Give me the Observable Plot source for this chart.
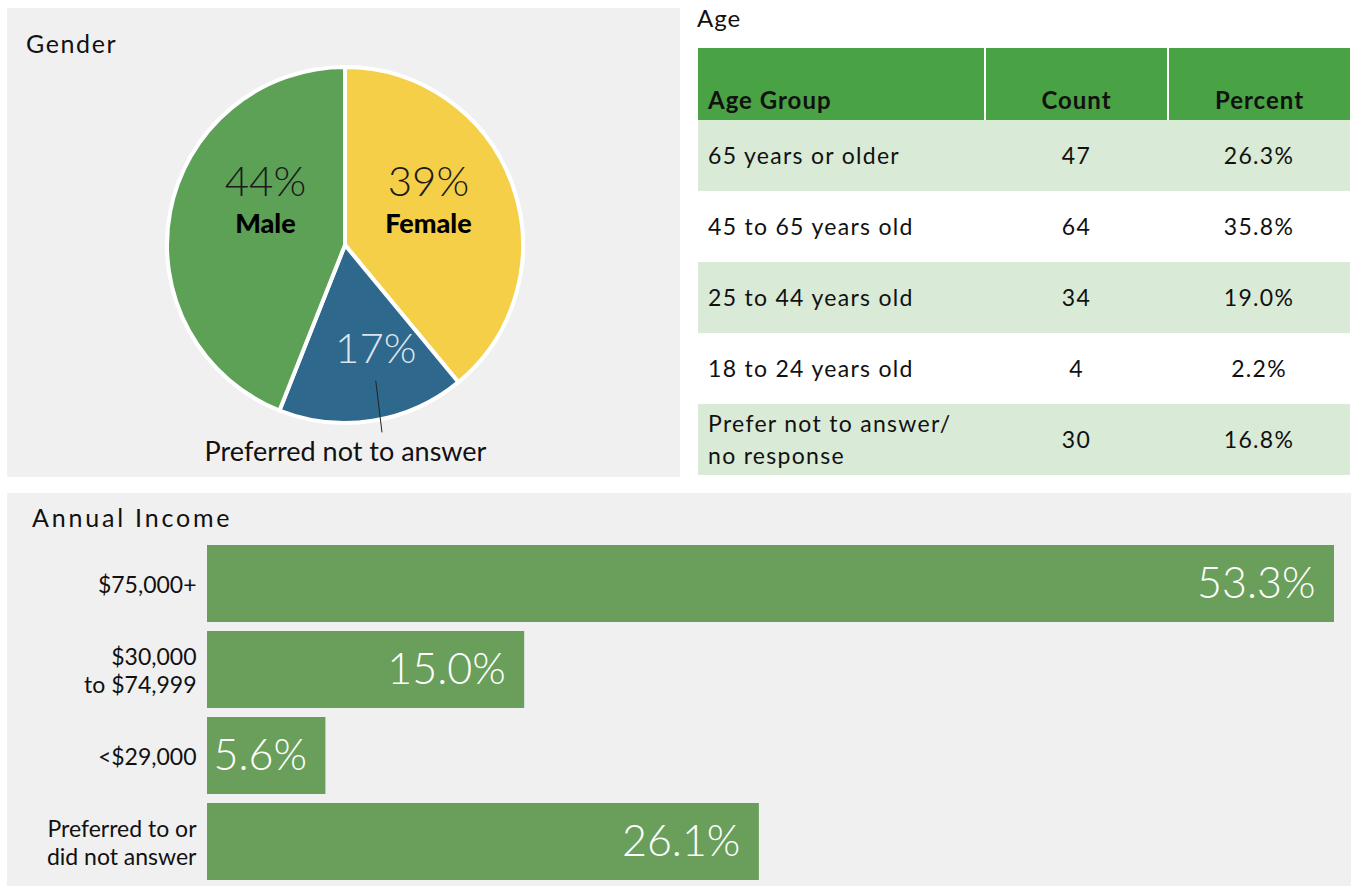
<!DOCTYPE html>
<html>
<head>
<meta charset="utf-8">
<script src="https://cdn.jsdelivr.net/npm/d3@7"></script>
<script src="https://cdn.jsdelivr.net/npm/@observablehq/plot@0.6"></script>
<style>
  html, body { margin: 0; padding: 0; background: #ffffff; }
  body { width: 1351px; height: 886px; position: relative; overflow: hidden; font-family: Lato, "Open Sans", sans-serif; color: #111; }
  .panel { position: absolute; background: #f0f0f0; }
  .title { position: absolute; font-size: 25px; line-height: 1; color: #111; white-space: nowrap; letter-spacing: 1.6px; }
  #gender { left: 7px; top: 8px; width: 673px; height: 469px; }
  #income { left: 7px; top: 493px; width: 1344px; height: 393px; }
  #age { position: absolute; left: 698px; top: 48px; width: 652px; }
  table { border-collapse: collapse; width: 652px; table-layout: fixed; font-size: 23px; letter-spacing: 1.3px; }
  th { background: #49a243; height: 66px; vertical-align: bottom; padding: 0 0 6px 0; font-weight: 700; font-size: 24px; border-left: 2px solid #fff; border-right: 2px solid #fff; letter-spacing: 1px; }
  th:first-child { border-left: none; text-align: left; padding-left: 10px; }
  th:last-child { border-right: none; }
  td { height: 71px; padding: 0; text-align: center; vertical-align: middle; line-height: 1.38; }
  td:first-child { text-align: left; padding-left: 10px; }
  tr.alt td { background: #d9ead6; }
  svg { position: absolute; left: 0; top: 0; }
</style>
</head>
<body>
<div class="panel" id="gender"><div class="title" style="left:19px;top:23px;">Gender</div></div>
<div class="title" style="left:697px;top:6px;font-size:24px;letter-spacing:1px;">Age</div>
<div id="age"></div>
<div class="panel" id="income"><div class="title" style="left:25px;top:12px;letter-spacing:2.8px;">Annual Income</div></div>
<script>
// ---------- DATA ----------
const genderKeys = ["Female", "Preferred not to answer", "Male"];
const genderPct = [39, 17, 44];
const genderShortLabels = ["Female", "", "Male"];
const genderColors = ["#f4cf47", "#2e688c", "#5ca156"];

const ageGroups = ["65 years or older", "45 to 65 years old", "25 to 44 years old", "18 to 24 years old", "Prefer not to answer/\nno response"];
const ageCounts = [47, 64, 34, 4, 30];
const agePercents = [26.3, 35.8, 19.0, 2.2, 16.8];
const ageHeaders = ["Age Group", "Count", "Percent"];

const incomeCats = ["$75,000+", "$30,000\nto $74,999", "<$29,000", "Preferred to or\ndid not answer"];
const incomePct = [53.3, 15.0, 5.6, 26.1];

// ---------- GENDER PIE ----------
const genderData = genderKeys.map((k, i) => ({key: k, value: genderPct[i], short: genderShortLabels[i], color: genderColors[i]}));
const pieColor = d3.scaleOrdinal(genderKeys, genderColors);
// label anchor positions (layout, in unit-radius coordinates)
const labelAt = {"Female": [0.466, 0.335], "Male": [-0.45, 0.335], "Preferred not to answer": [0.17, -0.6]};
const pctFill = {"Female": "#1a1a1a", "Male": "#1a1a1a", "Preferred not to answer": "#dde5ec"};

const R = 178, CX = 338, CY = 237;
const pie = Plot.plot({
  width: 673, height: 469,
  margin: 0,
  x: {domain: [-1, 1], range: [CX - R, CX + R], axis: null},
  y: {domain: [-1, 1], range: [CY + R, CY - R], axis: null},
  style: {background: "transparent", fontFamily: "Lato, 'Open Sans', sans-serif", overflow: "visible"},
  marks: [
    (index, scales) => {
      const cx = scales.x(0), cy = scales.y(0), r = scales.x(1) - cx;
      const g = d3.create("svg:g").attr("transform", `translate(${cx},${cy})`);
      const arcs = d3.pie().sort(null).value(d => d.value)(genderData);
      g.selectAll("path").data(arcs).join("path")
        .attr("d", d3.arc().innerRadius(0).outerRadius(r))
        .attr("fill", d => pieColor(d.data.key))
        .attr("stroke", "#fff").attr("stroke-width", 4).attr("stroke-linejoin", "round");
      return g.node();
    },
    Plot.text(genderData, {
      x: d => labelAt[d.key][0], y: d => labelAt[d.key][1],
      text: d => d.value + "%", fill: d => pctFill[d.key],
      fontSize: 42, fontWeight: 300, textAnchor: "middle", dy: -3
    }),
    Plot.text(genderData.filter(d => d.short), {
      x: d => labelAt[d.key][0], y: d => labelAt[d.key][1],
      text: "short", fill: "#000", fontSize: 27, fontWeight: 900, dy: 38
    }),
    Plot.link(genderData.filter(d => !d.short), {
      x1: d => labelAt[d.key][0] + 0.0, y1: d => labelAt[d.key][1] - 0.16,
      x2: d => labelAt[d.key][0] + 0.035, y2: -1.05,
      stroke: "#222", strokeWidth: 1
    }),
    Plot.text(genderData.filter(d => !d.short), {
      x: 0, y: -1.16, text: "key", fill: "#111", fontSize: 27, fontWeight: 400
    })
  ]
});
document.getElementById("gender").appendChild(pie);

// ---------- AGE TABLE ----------
const table = d3.select("#age").append("table");
const colW = [287, 183, 182];
table.append("colgroup").selectAll("col").data(colW).join("col").style("width", d => d + "px");
table.append("thead").append("tr").selectAll("th").data(ageHeaders).join("th").text(d => d);
const rows = table.append("tbody").selectAll("tr")
  .data(ageGroups.map((g, i) => [g, ageCounts[i], agePercents[i].toFixed(1) + "%"]))
  .join("tr").attr("class", (d, i) => i % 2 === 0 ? "alt" : "");
rows.selectAll("td").data(d => d).join("td")
  .html(d => String(d).replace("\n", "<br>"));

// ---------- INCOME BARS ----------
const incomeData = incomeCats.map((c, i) => ({cat: c, value: incomePct[i]}));
const bars = Plot.plot({
  width: 1344, height: 393,
  marginLeft: 200, marginRight: 17, marginTop: 51, marginBottom: 5,
  x: {domain: [0, 53.3], axis: null},
  y: {domain: incomeCats, paddingInner: 0.1, paddingOuter: 0, label: null},
  style: {background: "transparent", fontFamily: "Lato, 'Open Sans', sans-serif", overflow: "visible"},
  marks: [
    Plot.barX(incomeData, {x: "value", y: "cat", fill: "#6a9f5b"}),
    Plot.axisY({tickSize: 0, tickPadding: 11, fontSize: 23, lineHeight: 1.22, fill: "#111", label: null}),
    Plot.text(incomeData, {x: "value", y: "cat", text: d => d.value.toFixed(1) + "%", textAnchor: "end", dx: -19, fill: "#fff", fontSize: 43, fontWeight: 300})
  ]
});
document.getElementById("income").appendChild(bars);
</script>
</body>
</html>
